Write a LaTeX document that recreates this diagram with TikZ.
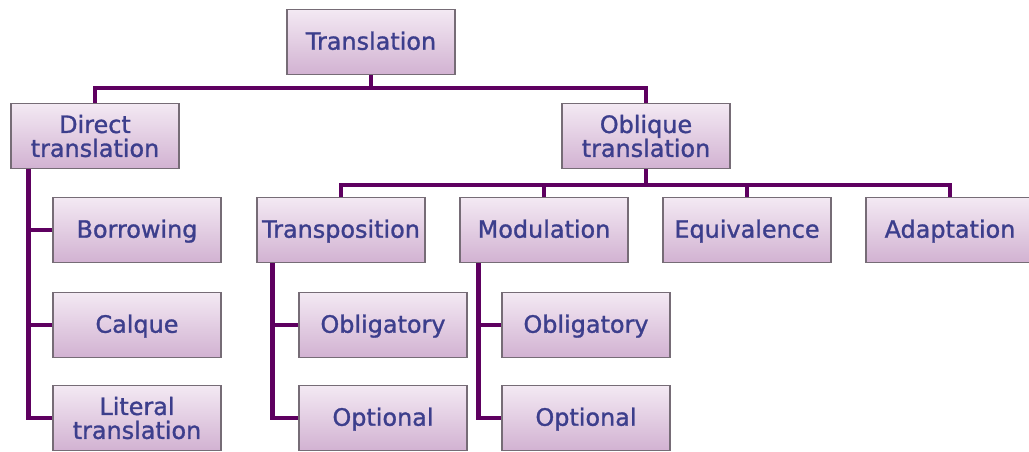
\documentclass[tikz,border=0pt]{standalone}
\usepackage{fontspec}
\setmainfont{DejaVu Sans}
\newfontfamily\boxfont[BoldFont={DejaVu Sans},BoldFeatures={FakeBold=1.2}]{DejaVu Sans}
\definecolor{boxtop}{RGB}{243,233,243}
\definecolor{boxbot}{RGB}{210,178,210}
\definecolor{boxline}{RGB}{118,108,118}
\definecolor{linkcol}{RGB}{94,0,96}
\definecolor{txtcol}{RGB}{60,62,140}
\tikzset{
  box/.style={draw=boxline, line width=0.6pt, top color=boxtop, bottom color=boxbot,
    minimum width=3.36cm, minimum height=1.3cm, inner sep=0pt, align=center,
    text=txtcol, font=\boxfont\bfseries\fontsize{13.6}{13.6}\selectfont},
  one/.style={text height=0.88em, text depth=0em},
  link/.style={linkcol, line width=2.3pt}
}
\begin{document}
\begin{tikzpicture}[x=0.02cm, y=-0.02cm]
\useasboundingbox (0,0) rectangle (1029,451);

% top level
\node[box, one] (trans) at (371,42) {Translation};
\node[box] (direct) at (95,136) {Direct\\translation};
\node[box] (oblique) at (646,136) {Oblique\\translation};

% direct procedures
\node[box, one] (borrow) at (137,230) {Borrowing};
\node[box, one] (calque) at (137,325) {Calque};
\node[box] (literal) at (137,418) {Literal\\translation};

% oblique procedures
\node[box, one] (transp) at (341,230) {Transposition};
\node[box, one] (modul) at (544,230) {Modulation};
\node[box, one] (equiv) at (747,230) {Equivalence};
\node[box, one] (adapt) at (950,230) {Adaptation};

\node[box, one] (tobl) at (383,325) {Obligatory};
\node[box, one] (topt) at (383,418) {Optional};
\node[box, one] (mobl) at (586,325) {Obligatory};
\node[box, one] (mopt) at (586,418) {Optional};

% links
\draw[link] (trans.south) -- ++(0,13) -| (direct.north);
\draw[link] (trans.south) -- ++(0,13) -| (oblique.north);

\draw[link] ([xshift=0.36cm]direct.south west) |- (literal.west);
\draw[link] (borrow.west) -- ++(-24,0);
\draw[link] (calque.west) -- ++(-24,0);

\foreach \c in {transp,modul,equiv,adapt}
  \draw[link] (oblique.south) -- ++(0,16) -| (\c.north);

\draw[link] ([xshift=0.32cm]transp.south west) |- (topt.west);
\draw[link] (tobl.west) -- ++(-25,0);
\draw[link] ([xshift=0.38cm]modul.south west) |- (mopt.west);
\draw[link] (mobl.west) -- ++(-22,0);

\end{tikzpicture}
\end{document}
